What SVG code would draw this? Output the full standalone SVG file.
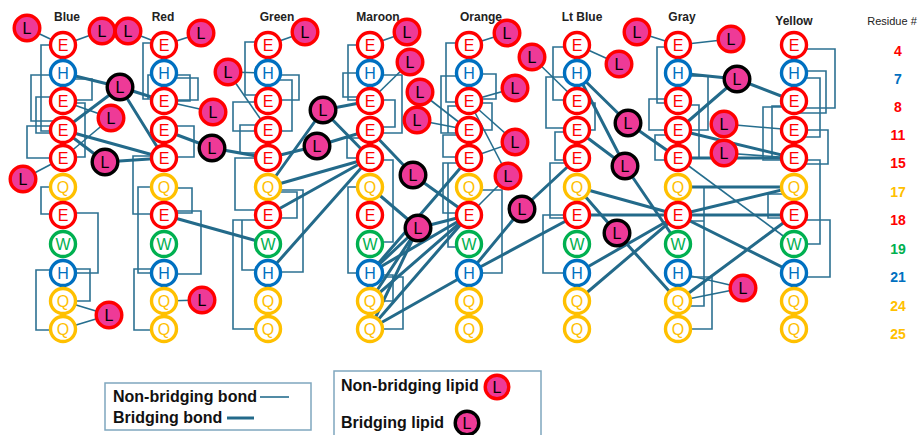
<svg xmlns="http://www.w3.org/2000/svg" width="919" height="435" viewBox="0 0 919 435">
<style>
text{font-family:"Liberation Sans",Arial,sans-serif;text-anchor:middle}
.res circle{fill:#fff;stroke-width:3.4}
.res text{font-size:16px}
.E circle{stroke:#FF0000}.E text{fill:#FF0000}
.H circle{stroke:#0070C0}.H text{fill:#0070C0}
.Q circle{stroke:#FFC000}.Q text{fill:#FFC000}
.W circle{stroke:#00B050}.W text{fill:#00B050}
.lip circle{fill:#EE3A97;stroke:#FF0000;stroke-width:3.4}
.lip.br circle{stroke:#000}
.lip text{fill:#000;font-size:16px}
.t{stroke:#256E8E;stroke-width:1.6;fill:none}
.T{stroke:#236A8A;stroke-width:3;fill:none;stroke-linecap:round}
.br-k{stroke:#2C7192;stroke-width:1.6;fill:none}
.lab{font-size:12px;font-weight:bold;fill:#222}
.num{font-size:14px;font-weight:bold}
.leg{font-size:16px;font-weight:bold;text-anchor:start;fill:#111}
</style>
<g id="connectors">
<g id="brackets">
<path class="br-k" d="M63 45H41V131H63M63 75H31V121H63M63 97H36V133H63M63 126H27V158H63M63 79H92V100H63M63 103H85V157H63M63 187H41V214H63M63 213H98V273H63M63 269H90V301H63M63 270H36V330H63"/>
<path class="br-k" d="M164 43H143V99H164M164 75H148V99H164M164 78H198V100H164M164 75H190V101H164M164 126H194V157H164M164 156H133V214H164M164 188H192V213H164M164 187H138V273H164M164 211H201V274H164M164 269H134V330H164"/>
<path class="br-k" d="M268 42H245V95H268M268 75H299V100H268M268 80H292V131H268M268 102H233V131H268M268 125H240V153H268M268 158H235V210H268M268 192H297V218H268M268 190H303V272H268M268 220H242V270H268M268 220H233V329H268"/>
<path class="br-k" d="M370 45H348V100H370M370 73H343V97H370M370 75H402V133H370M370 100H395V127H370M370 138H347V158H370M370 187H348V273H370M370 160H393V242H370M370 275H393V301H370M370 277H403V329H370"/>
<path class="br-k" d="M469 43H446V102H469M469 76H441V133H469M469 106H448V133H469M469 74H496V99H469M469 103H492V130H469M469 135H443V157H469M469 163H443V213H469M469 163H448V247H469M469 190H502V273H469"/>
<path class="br-k" d="M577 47H553V100H577M577 77H546V128H577M577 103H595V130H577M577 132H555V160H577M577 163H550V218H577M577 215H543V273H577"/>
<path class="br-k" d="M678 47H657V103H678M678 99H649V130H678M678 135H655V160H678M678 76H708V130H678M678 105H699V158H678M678 187H704V306H678M678 221H704M678 277H712V329H678"/>
<path class="br-k" d="M794 49H835V108H794M794 71H826V113H794M794 78H820V137H794M794 130H828V164H794M794 244H820V160H794M794 220H830V277H794M794 107H763V160H794M794 106H772V158H794M794 194H768V218H794"/>
</g>
<g id="nonbridging-bonds">
<line class="t" x1="27" y1="28" x2="63" y2="45"/>
<line class="t" x1="102" y1="31" x2="63" y2="45"/>
<line class="t" x1="128" y1="31" x2="164" y2="45"/>
<line class="t" x1="201" y1="33" x2="164" y2="45"/>
<line class="t" x1="111" y1="118" x2="63" y2="101"/>
<line class="t" x1="111" y1="118" x2="63" y2="158"/>
<line class="t" x1="23" y1="179" x2="63" y2="158"/>
<line class="t" x1="109" y1="315" x2="63" y2="301"/>
<line class="t" x1="109" y1="315" x2="63" y2="329"/>
<line class="t" x1="202" y1="300" x2="164" y2="301"/>
<line class="t" x1="213" y1="112" x2="164" y2="101"/>
<line class="t" x1="305" y1="32" x2="268" y2="45"/>
<line class="t" x1="228" y1="72" x2="268" y2="73"/>
<line class="t" x1="228" y1="72" x2="268" y2="130"/>
<line class="t" x1="407" y1="32" x2="370" y2="45"/>
<line class="t" x1="410" y1="62" x2="370" y2="101"/>
<line class="t" x1="420" y1="92" x2="469" y2="130"/>
<line class="t" x1="417" y1="120" x2="469" y2="130"/>
<line class="t" x1="507" y1="33" x2="469" y2="45"/>
<line class="t" x1="532" y1="57" x2="577" y2="101"/>
<line class="t" x1="515" y1="88" x2="469" y2="101"/>
<line class="t" x1="515" y1="142" x2="469" y2="101"/>
<line class="t" x1="515" y1="142" x2="469" y2="158"/>
<line class="t" x1="508" y1="176" x2="469" y2="101"/>
<line class="t" x1="508" y1="176" x2="469" y2="215"/>
<line class="t" x1="619" y1="64" x2="577" y2="45"/>
<line class="t" x1="637" y1="32" x2="678" y2="45"/>
<line class="t" x1="731" y1="39" x2="678" y2="45"/>
<line class="t" x1="724" y1="124" x2="794" y2="130"/>
<line class="t" x1="724" y1="153" x2="794" y2="158"/>
<line class="t" x1="678" y1="158" x2="794" y2="244"/>
<line class="t" x1="743" y1="288" x2="678" y2="273"/>
<line class="t" x1="743" y1="288" x2="678" y2="301"/>
</g>
<g id="bridging-bonds">
<line class="T" x1="120" y1="87" x2="63" y2="73"/>
<line class="T" x1="120" y1="87" x2="63" y2="130"/>
<line class="T" x1="120" y1="87" x2="164" y2="101"/>
<line class="T" x1="120" y1="87" x2="164" y2="158"/>
<line class="T" x1="105" y1="162" x2="63" y2="130"/>
<line class="T" x1="105" y1="162" x2="164" y2="158"/>
<line class="T" x1="63" y1="130" x2="164" y2="158"/>
<line class="T" x1="212" y1="148" x2="164" y2="130"/>
<line class="T" x1="212" y1="148" x2="268" y2="158"/>
<line class="T" x1="164" y1="215" x2="268" y2="244"/>
<line class="T" x1="323" y1="110" x2="370" y2="101"/>
<line class="T" x1="323" y1="110" x2="268" y2="187"/>
<line class="T" x1="323" y1="110" x2="370" y2="158"/>
<line class="T" x1="317" y1="146" x2="370" y2="130"/>
<line class="T" x1="317" y1="146" x2="268" y2="158"/>
<line class="T" x1="370" y1="158" x2="268" y2="187"/>
<line class="T" x1="370" y1="158" x2="268" y2="215"/>
<line class="T" x1="370" y1="158" x2="268" y2="273"/>
<line class="T" x1="413" y1="175" x2="370" y2="130"/>
<line class="T" x1="413" y1="175" x2="469" y2="215"/>
<line class="T" x1="418" y1="228" x2="370" y2="187"/>
<line class="T" x1="418" y1="228" x2="469" y2="215"/>
<line class="T" x1="418" y1="228" x2="370" y2="273"/>
<line class="T" x1="418" y1="228" x2="370" y2="301"/>
<line class="T" x1="418" y1="228" x2="370" y2="329"/>
<line class="T" x1="370" y1="273" x2="469" y2="158"/>
<line class="T" x1="370" y1="273" x2="469" y2="215"/>
<line class="T" x1="370" y1="301" x2="469" y2="215"/>
<line class="T" x1="370" y1="329" x2="469" y2="215"/>
<line class="T" x1="370" y1="329" x2="469" y2="273"/>
<line class="T" x1="522" y1="209" x2="469" y2="273"/>
<line class="T" x1="522" y1="209" x2="577" y2="158"/>
<line class="T" x1="469" y1="273" x2="577" y2="215"/>
<line class="T" x1="628" y1="123" x2="577" y2="73"/>
<line class="T" x1="628" y1="123" x2="678" y2="158"/>
<line class="T" x1="625" y1="166" x2="577" y2="73"/>
<line class="T" x1="625" y1="166" x2="577" y2="130"/>
<line class="T" x1="625" y1="166" x2="678" y2="244"/>
<line class="T" x1="617" y1="233" x2="577" y2="187"/>
<line class="T" x1="617" y1="233" x2="678" y2="301"/>
<line class="T" x1="577" y1="187" x2="678" y2="215"/>
<line class="T" x1="577" y1="215" x2="678" y2="215"/>
<line class="T" x1="577" y1="273" x2="678" y2="215"/>
<line class="T" x1="577" y1="301" x2="678" y2="215"/>
<line class="T" x1="737" y1="79" x2="678" y2="73"/>
<line class="T" x1="737" y1="79" x2="678" y2="130"/>
<line class="T" x1="737" y1="79" x2="794" y2="101"/>
<line class="T" x1="678" y1="130" x2="794" y2="158"/>
<line class="T" x1="678" y1="158" x2="794" y2="158"/>
<line class="T" x1="678" y1="187" x2="794" y2="187"/>
<line class="T" x1="678" y1="215" x2="794" y2="187"/>
<line class="T" x1="678" y1="215" x2="794" y2="215"/>
<line class="T" x1="678" y1="215" x2="794" y2="273"/>
<line class="T" x1="678" y1="301" x2="794" y2="215"/>
</g>
</g>
<g id="labels">
<text class="lab" x="67" y="21">Blue</text>
<text class="lab" x="163" y="21">Red</text>
<text class="lab" x="277" y="21">Green</text>
<text class="lab" x="378" y="21">Maroon</text>
<text class="lab" x="481" y="21">Orange</text>
<text class="lab" x="582" y="21">Lt Blue</text>
<text class="lab" x="682" y="21">Gray</text>
<text class="lab" x="794" y="25">Yellow</text>
<text x="892" y="25" style="font-size:11px;fill:#222">Residue #</text>
<text class="num" x="898" y="56" fill="#FF0000">4</text>
<text class="num" x="898" y="84" fill="#0070C0">7</text>
<text class="num" x="898" y="112" fill="#FF0000">8</text>
<text class="num" x="898" y="140" fill="#FF0000">11</text>
<text class="num" x="898" y="168" fill="#FF0000">15</text>
<text class="num" x="898" y="197" fill="#FFC000">17</text>
<text class="num" x="898" y="225" fill="#FF0000">18</text>
<text class="num" x="898" y="254" fill="#00B050">19</text>
<text class="num" x="898" y="282" fill="#0070C0">21</text>
<text class="num" x="898" y="311" fill="#FFC000">24</text>
<text class="num" x="898" y="339" fill="#FFC000">25</text>
</g>
<g id="blue">
<g id="blue-4" class="res E"><circle cx="63" cy="45" r="12.5"/><text x="63" y="51">E</text></g>
<g id="blue-7" class="res H"><circle cx="63" cy="73" r="12.5"/><text x="63" y="79">H</text></g>
<g id="blue-8" class="res E"><circle cx="63" cy="101" r="12.5"/><text x="63" y="107">E</text></g>
<g id="blue-11" class="res E"><circle cx="63" cy="130" r="12.5"/><text x="63" y="136">E</text></g>
<g id="blue-15" class="res E"><circle cx="63" cy="158" r="12.5"/><text x="63" y="164">E</text></g>
<g id="blue-17" class="res Q"><circle cx="63" cy="187" r="12.5"/><text x="63" y="193">Q</text></g>
<g id="blue-18" class="res E"><circle cx="63" cy="215" r="12.5"/><text x="63" y="221">E</text></g>
<g id="blue-19" class="res W"><circle cx="63" cy="244" r="12.5"/><text x="63" y="250">W</text></g>
<g id="blue-21" class="res H"><circle cx="63" cy="273" r="12.5"/><text x="63" y="279">H</text></g>
<g id="blue-24" class="res Q"><circle cx="63" cy="301" r="12.5"/><text x="63" y="307">Q</text></g>
<g id="blue-25" class="res Q"><circle cx="63" cy="329" r="12.5"/><text x="63" y="335">Q</text></g>
</g>
<g id="red">
<g id="red-4" class="res E"><circle cx="164" cy="45" r="12.5"/><text x="164" y="51">E</text></g>
<g id="red-7" class="res H"><circle cx="164" cy="73" r="12.5"/><text x="164" y="79">H</text></g>
<g id="red-8" class="res E"><circle cx="164" cy="101" r="12.5"/><text x="164" y="107">E</text></g>
<g id="red-11" class="res E"><circle cx="164" cy="130" r="12.5"/><text x="164" y="136">E</text></g>
<g id="red-15" class="res E"><circle cx="164" cy="158" r="12.5"/><text x="164" y="164">E</text></g>
<g id="red-17" class="res Q"><circle cx="164" cy="187" r="12.5"/><text x="164" y="193">Q</text></g>
<g id="red-18" class="res E"><circle cx="164" cy="215" r="12.5"/><text x="164" y="221">E</text></g>
<g id="red-19" class="res W"><circle cx="164" cy="244" r="12.5"/><text x="164" y="250">W</text></g>
<g id="red-21" class="res H"><circle cx="164" cy="273" r="12.5"/><text x="164" y="279">H</text></g>
<g id="red-24" class="res Q"><circle cx="164" cy="301" r="12.5"/><text x="164" y="307">Q</text></g>
<g id="red-25" class="res Q"><circle cx="164" cy="329" r="12.5"/><text x="164" y="335">Q</text></g>
</g>
<g id="green">
<g id="green-4" class="res E"><circle cx="268" cy="45" r="12.5"/><text x="268" y="51">E</text></g>
<g id="green-7" class="res H"><circle cx="268" cy="73" r="12.5"/><text x="268" y="79">H</text></g>
<g id="green-8" class="res E"><circle cx="268" cy="101" r="12.5"/><text x="268" y="107">E</text></g>
<g id="green-11" class="res E"><circle cx="268" cy="130" r="12.5"/><text x="268" y="136">E</text></g>
<g id="green-15" class="res E"><circle cx="268" cy="158" r="12.5"/><text x="268" y="164">E</text></g>
<g id="green-17" class="res Q"><circle cx="268" cy="187" r="12.5"/><text x="268" y="193">Q</text></g>
<g id="green-18" class="res E"><circle cx="268" cy="215" r="12.5"/><text x="268" y="221">E</text></g>
<g id="green-19" class="res W"><circle cx="268" cy="244" r="12.5"/><text x="268" y="250">W</text></g>
<g id="green-21" class="res H"><circle cx="268" cy="273" r="12.5"/><text x="268" y="279">H</text></g>
<g id="green-24" class="res Q"><circle cx="268" cy="301" r="12.5"/><text x="268" y="307">Q</text></g>
<g id="green-25" class="res Q"><circle cx="268" cy="329" r="12.5"/><text x="268" y="335">Q</text></g>
</g>
<g id="maroon">
<g id="maroon-4" class="res E"><circle cx="370" cy="45" r="12.5"/><text x="370" y="51">E</text></g>
<g id="maroon-7" class="res H"><circle cx="370" cy="73" r="12.5"/><text x="370" y="79">H</text></g>
<g id="maroon-8" class="res E"><circle cx="370" cy="101" r="12.5"/><text x="370" y="107">E</text></g>
<g id="maroon-11" class="res E"><circle cx="370" cy="130" r="12.5"/><text x="370" y="136">E</text></g>
<g id="maroon-15" class="res E"><circle cx="370" cy="158" r="12.5"/><text x="370" y="164">E</text></g>
<g id="maroon-17" class="res Q"><circle cx="370" cy="187" r="12.5"/><text x="370" y="193">Q</text></g>
<g id="maroon-18" class="res E"><circle cx="370" cy="215" r="12.5"/><text x="370" y="221">E</text></g>
<g id="maroon-19" class="res W"><circle cx="370" cy="244" r="12.5"/><text x="370" y="250">W</text></g>
<g id="maroon-21" class="res H"><circle cx="370" cy="273" r="12.5"/><text x="370" y="279">H</text></g>
<g id="maroon-24" class="res Q"><circle cx="370" cy="301" r="12.5"/><text x="370" y="307">Q</text></g>
<g id="maroon-25" class="res Q"><circle cx="370" cy="329" r="12.5"/><text x="370" y="335">Q</text></g>
</g>
<g id="orange">
<g id="orange-4" class="res E"><circle cx="469" cy="45" r="12.5"/><text x="469" y="51">E</text></g>
<g id="orange-7" class="res H"><circle cx="469" cy="73" r="12.5"/><text x="469" y="79">H</text></g>
<g id="orange-8" class="res E"><circle cx="469" cy="101" r="12.5"/><text x="469" y="107">E</text></g>
<g id="orange-11" class="res E"><circle cx="469" cy="130" r="12.5"/><text x="469" y="136">E</text></g>
<g id="orange-15" class="res E"><circle cx="469" cy="158" r="12.5"/><text x="469" y="164">E</text></g>
<g id="orange-17" class="res Q"><circle cx="469" cy="187" r="12.5"/><text x="469" y="193">Q</text></g>
<g id="orange-18" class="res E"><circle cx="469" cy="215" r="12.5"/><text x="469" y="221">E</text></g>
<g id="orange-19" class="res W"><circle cx="469" cy="244" r="12.5"/><text x="469" y="250">W</text></g>
<g id="orange-21" class="res H"><circle cx="469" cy="273" r="12.5"/><text x="469" y="279">H</text></g>
<g id="orange-24" class="res Q"><circle cx="469" cy="301" r="12.5"/><text x="469" y="307">Q</text></g>
<g id="orange-25" class="res Q"><circle cx="469" cy="329" r="12.5"/><text x="469" y="335">Q</text></g>
</g>
<g id="ltblue">
<g id="ltblue-4" class="res E"><circle cx="577" cy="45" r="12.5"/><text x="577" y="51">E</text></g>
<g id="ltblue-7" class="res H"><circle cx="577" cy="73" r="12.5"/><text x="577" y="79">H</text></g>
<g id="ltblue-8" class="res E"><circle cx="577" cy="101" r="12.5"/><text x="577" y="107">E</text></g>
<g id="ltblue-11" class="res E"><circle cx="577" cy="130" r="12.5"/><text x="577" y="136">E</text></g>
<g id="ltblue-15" class="res E"><circle cx="577" cy="158" r="12.5"/><text x="577" y="164">E</text></g>
<g id="ltblue-17" class="res Q"><circle cx="577" cy="187" r="12.5"/><text x="577" y="193">Q</text></g>
<g id="ltblue-18" class="res E"><circle cx="577" cy="215" r="12.5"/><text x="577" y="221">E</text></g>
<g id="ltblue-19" class="res W"><circle cx="577" cy="244" r="12.5"/><text x="577" y="250">W</text></g>
<g id="ltblue-21" class="res H"><circle cx="577" cy="273" r="12.5"/><text x="577" y="279">H</text></g>
<g id="ltblue-24" class="res Q"><circle cx="577" cy="301" r="12.5"/><text x="577" y="307">Q</text></g>
<g id="ltblue-25" class="res Q"><circle cx="577" cy="329" r="12.5"/><text x="577" y="335">Q</text></g>
</g>
<g id="gray">
<g id="gray-4" class="res E"><circle cx="678" cy="45" r="12.5"/><text x="678" y="51">E</text></g>
<g id="gray-7" class="res H"><circle cx="678" cy="73" r="12.5"/><text x="678" y="79">H</text></g>
<g id="gray-8" class="res E"><circle cx="678" cy="101" r="12.5"/><text x="678" y="107">E</text></g>
<g id="gray-11" class="res E"><circle cx="678" cy="130" r="12.5"/><text x="678" y="136">E</text></g>
<g id="gray-15" class="res E"><circle cx="678" cy="158" r="12.5"/><text x="678" y="164">E</text></g>
<g id="gray-17" class="res Q"><circle cx="678" cy="187" r="12.5"/><text x="678" y="193">Q</text></g>
<g id="gray-18" class="res E"><circle cx="678" cy="215" r="12.5"/><text x="678" y="221">E</text></g>
<g id="gray-19" class="res W"><circle cx="678" cy="244" r="12.5"/><text x="678" y="250">W</text></g>
<g id="gray-21" class="res H"><circle cx="678" cy="273" r="12.5"/><text x="678" y="279">H</text></g>
<g id="gray-24" class="res Q"><circle cx="678" cy="301" r="12.5"/><text x="678" y="307">Q</text></g>
<g id="gray-25" class="res Q"><circle cx="678" cy="329" r="12.5"/><text x="678" y="335">Q</text></g>
</g>
<g id="yellow">
<g id="yellow-4" class="res E"><circle cx="794" cy="45" r="12.5"/><text x="794" y="51">E</text></g>
<g id="yellow-7" class="res H"><circle cx="794" cy="73" r="12.5"/><text x="794" y="79">H</text></g>
<g id="yellow-8" class="res E"><circle cx="794" cy="101" r="12.5"/><text x="794" y="107">E</text></g>
<g id="yellow-11" class="res E"><circle cx="794" cy="130" r="12.5"/><text x="794" y="136">E</text></g>
<g id="yellow-15" class="res E"><circle cx="794" cy="158" r="12.5"/><text x="794" y="164">E</text></g>
<g id="yellow-17" class="res Q"><circle cx="794" cy="187" r="12.5"/><text x="794" y="193">Q</text></g>
<g id="yellow-18" class="res E"><circle cx="794" cy="215" r="12.5"/><text x="794" y="221">E</text></g>
<g id="yellow-19" class="res W"><circle cx="794" cy="244" r="12.5"/><text x="794" y="250">W</text></g>
<g id="yellow-21" class="res H"><circle cx="794" cy="273" r="12.5"/><text x="794" y="279">H</text></g>
<g id="yellow-24" class="res Q"><circle cx="794" cy="301" r="12.5"/><text x="794" y="307">Q</text></g>
<g id="yellow-25" class="res Q"><circle cx="794" cy="329" r="12.5"/><text x="794" y="335">Q</text></g>
</g>
<g id="lipids">
<g id="lip-n1" class="lip"><circle cx="27" cy="28" r="12.8"/><text x="27" y="34">L</text></g>
<g id="lip-n2" class="lip"><circle cx="102" cy="31" r="12.8"/><text x="102" y="37">L</text></g>
<g id="lip-n3" class="lip"><circle cx="128" cy="31" r="12.8"/><text x="128" y="37">L</text></g>
<g id="lip-n4" class="lip"><circle cx="201" cy="33" r="12.8"/><text x="201" y="39">L</text></g>
<g id="lip-n5" class="lip"><circle cx="111" cy="118" r="12.8"/><text x="111" y="124">L</text></g>
<g id="lip-n6" class="lip"><circle cx="23" cy="179" r="12.8"/><text x="23" y="185">L</text></g>
<g id="lip-n7" class="lip"><circle cx="109" cy="315" r="12.8"/><text x="109" y="321">L</text></g>
<g id="lip-n8" class="lip"><circle cx="202" cy="300" r="12.8"/><text x="202" y="306">L</text></g>
<g id="lip-n9" class="lip"><circle cx="213" cy="112" r="12.8"/><text x="213" y="118">L</text></g>
<g id="lip-n10" class="lip"><circle cx="305" cy="32" r="12.8"/><text x="305" y="38">L</text></g>
<g id="lip-n11" class="lip"><circle cx="228" cy="72" r="12.8"/><text x="228" y="78">L</text></g>
<g id="lip-n12" class="lip"><circle cx="407" cy="32" r="12.8"/><text x="407" y="38">L</text></g>
<g id="lip-n13" class="lip"><circle cx="410" cy="62" r="12.8"/><text x="410" y="68">L</text></g>
<g id="lip-n14" class="lip"><circle cx="420" cy="92" r="12.8"/><text x="420" y="98">L</text></g>
<g id="lip-n15" class="lip"><circle cx="417" cy="120" r="12.8"/><text x="417" y="126">L</text></g>
<g id="lip-n16" class="lip"><circle cx="507" cy="33" r="12.8"/><text x="507" y="39">L</text></g>
<g id="lip-n17" class="lip"><circle cx="532" cy="57" r="12.8"/><text x="532" y="63">L</text></g>
<g id="lip-n18" class="lip"><circle cx="515" cy="88" r="12.8"/><text x="515" y="94">L</text></g>
<g id="lip-n19" class="lip"><circle cx="515" cy="142" r="12.8"/><text x="515" y="148">L</text></g>
<g id="lip-n20" class="lip"><circle cx="508" cy="176" r="12.8"/><text x="508" y="182">L</text></g>
<g id="lip-n21" class="lip"><circle cx="619" cy="64" r="12.8"/><text x="619" y="70">L</text></g>
<g id="lip-n22" class="lip"><circle cx="637" cy="32" r="12.8"/><text x="637" y="38">L</text></g>
<g id="lip-n23" class="lip"><circle cx="731" cy="39" r="12.8"/><text x="731" y="45">L</text></g>
<g id="lip-n24" class="lip"><circle cx="724" cy="124" r="12.8"/><text x="724" y="130">L</text></g>
<g id="lip-n25" class="lip"><circle cx="724" cy="153" r="12.8"/><text x="724" y="159">L</text></g>
<g id="lip-n26" class="lip"><circle cx="743" cy="288" r="12.8"/><text x="743" y="294">L</text></g>
<g id="lip-b1" class="lip br"><circle cx="120" cy="87" r="12.8"/><text x="120" y="93">L</text></g>
<g id="lip-b2" class="lip br"><circle cx="105" cy="162" r="12.8"/><text x="105" y="168">L</text></g>
<g id="lip-b3" class="lip br"><circle cx="212" cy="148" r="12.8"/><text x="212" y="154">L</text></g>
<g id="lip-b4" class="lip br"><circle cx="323" cy="110" r="12.8"/><text x="323" y="116">L</text></g>
<g id="lip-b5" class="lip br"><circle cx="317" cy="146" r="12.8"/><text x="317" y="152">L</text></g>
<g id="lip-b6" class="lip br"><circle cx="413" cy="175" r="12.8"/><text x="413" y="181">L</text></g>
<g id="lip-b7" class="lip br"><circle cx="418" cy="228" r="12.8"/><text x="418" y="234">L</text></g>
<g id="lip-b8" class="lip br"><circle cx="522" cy="209" r="12.8"/><text x="522" y="215">L</text></g>
<g id="lip-b9" class="lip br"><circle cx="628" cy="123" r="12.8"/><text x="628" y="129">L</text></g>
<g id="lip-b10" class="lip br"><circle cx="625" cy="166" r="12.8"/><text x="625" y="172">L</text></g>
<g id="lip-b11" class="lip br"><circle cx="617" cy="233" r="12.8"/><text x="617" y="239">L</text></g>
<g id="lip-b12" class="lip br"><circle cx="737" cy="79" r="12.8"/><text x="737" y="85">L</text></g>
</g>
<g id="legend-bonds">
<rect x="105" y="383" width="206" height="47" fill="none" stroke="#7FA7BE" stroke-width="1.5"/>
<text class="leg" x="113" y="402">Non-bridging bond</text>
<line class="t" x1="260" y1="397" x2="289" y2="397"/>
<text class="leg" x="113" y="423">Bridging bond</text>
<line x1="227" y1="418" x2="254" y2="418" stroke="#236A8A" stroke-width="3"/>
</g>
<g id="legend-lipids">
<rect x="334" y="371" width="207" height="70" fill="none" stroke="#7FA7BE" stroke-width="1.5"/>
<text class="leg" x="341" y="391">Non-bridging lipid</text>
<g class="lip"><circle cx="497" cy="387" r="11.8"/><text x="497" y="393">L</text></g>
<text class="leg" x="341" y="428">Bridging lipid</text>
<g class="lip br"><circle cx="467" cy="423" r="11.8"/><text x="467" y="429">L</text></g>
</g>
</svg>
